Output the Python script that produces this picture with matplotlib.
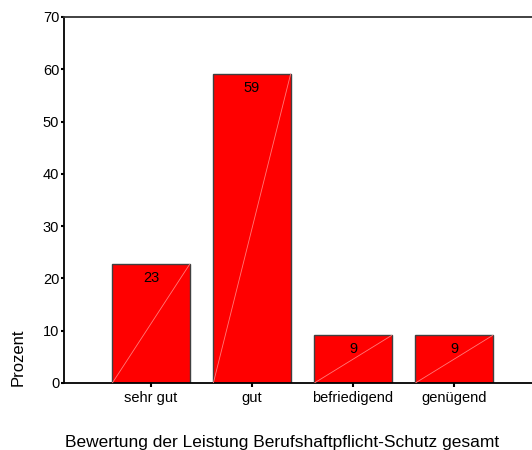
import matplotlib
matplotlib.use('Agg')
import matplotlib.pyplot as plt
import numpy as np

plt.rcParams['font.family'] = ['Liberation Sans', 'DejaVu Sans']

categories = ['sehr gut', 'gut', 'befriedigend', 'genügend']
percent = [22.7, 59.1, 9.1, 9.1]
labels = ['23', '59', '9', '9']

fig = plt.figure(figsize=(5.32, 4.5), dpi=100)
ax = fig.add_axes([64 / 532, 67 / 450, 1 - 64 / 532, 366 / 450])

x = np.arange(len(categories))
w = 0.765
ax.bar(x, percent, width=w, color='#ff0000', edgecolor='#404040', linewidth=1.0, zorder=2)
for xi, v, lab in zip(x, percent, labels):
    ax.plot([xi - w / 2, xi + w / 2], [0, v], color='#ff7a7a', linewidth=0.6, zorder=3)
    ax.annotate(lab, (xi, v), xytext=(0, -5), textcoords='offset points',
                ha='center', va='top', fontsize=10.5, color='black', zorder=4)

ax.set_xlim(-0.861, 3.772)
ax.set_ylim(0, 70)
ax.set_yticks(range(0, 71, 10))
ax.set_xticks(x)
ax.set_xticklabels(categories, fontsize=10.5)
ax.tick_params(axis='y', length=2.5, width=1.5, pad=1, labelsize=10.5)
ax.tick_params(axis='x', length=3, width=1.5, pad=3)

ax.spines['right'].set_visible(False)
ax.spines['left'].set_linewidth(1.3)
ax.spines['bottom'].set_linewidth(1.3)
ax.spines['top'].set_linewidth(1.3)
ax.spines['top'].set_color('#333333')

fig.text(65 / 532, 1 - 442 / 450, 'Bewertung der Leistung Berufshaftpflicht-Schutz gesamt',
         fontsize=12.5, ha='left', va='center')
fig.text(18 / 532, 1 - 357 / 450, 'Prozent', fontsize=12, rotation=90,
         ha='center', va='center')

fig.savefig('out.png', dpi=100)
